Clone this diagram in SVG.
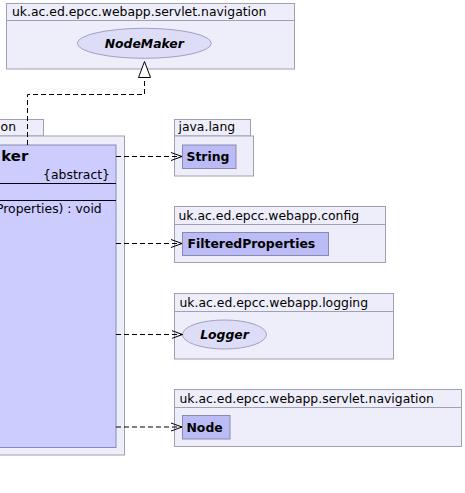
<svg xmlns="http://www.w3.org/2000/svg" width="465" height="493" viewBox="0 0 465 493">
<style>
.pkg{fill:#EEEEFA;stroke:#A0A0B4;stroke-width:1}
.cls{fill:#CCCCFF;stroke:#8A8AB0;stroke-width:1}
.ref{fill:#BBBBF5;stroke:#8A8AB0;stroke-width:1}
.ifc{fill:#DDDDF8;stroke:#A0A0C0;stroke-width:1}
.t{font-family:"DejaVu Sans",sans-serif;font-size:12.4px;fill:#000}
.b{font-family:"DejaVu Sans",sans-serif;font-size:12.4px;font-weight:bold;fill:#000}
.bi{font-family:"DejaVu Sans",sans-serif;font-size:12.4px;font-weight:bold;font-style:italic;fill:#000}
.dep{fill:none;stroke:#000;stroke-width:1;stroke-dasharray:5,3}
</style>
<defs>
<marker id="open" viewBox="0 0 12 10" refX="11" refY="5" markerWidth="12" markerHeight="10" markerUnits="userSpaceOnUse" orient="auto">
<path d="M0,1 L11,5 L0,9" fill="none" stroke="#000" stroke-width="1"/>
</marker>
</defs>
<rect width="465" height="493" fill="#FFFFFF"/>

<g id="pkg-navigation-top">
<rect class="pkg" x="6.5" y="3.5" width="288" height="65.5"/>
<line x1="6.5" y1="20.5" x2="294.5" y2="20.5" stroke="#A0A0B4"/>
<text class="t" x="12" y="15.5">uk.ac.ed.epcc.webapp.servlet.navigation</text>
</g>
<g id="node-NodeMaker">
<ellipse class="ifc" cx="144.3" cy="43.3" rx="67" ry="15"/>
<text class="bi" x="144.3" y="47.8" text-anchor="middle">NodeMaker</text>
</g>

<g id="pkg-left">
<rect class="pkg" x="-1" y="119.5" width="44.5" height="16.5"/>
<rect class="pkg" x="-1" y="136" width="125.5" height="319"/>
<text class="t" x="16" y="130.5" text-anchor="end">on</text>
</g>
<g id="node-main">
<rect class="cls" x="-1" y="145" width="117" height="302.5"/>
<line x1="-1" y1="183.5" x2="116" y2="183.5" stroke="#000"/>
<line x1="-1" y1="200.5" x2="116" y2="200.5" stroke="#000"/>
<text class="b" style="font-size:14.9px" x="28.3" y="160.5" text-anchor="end">ker</text>
<text class="t" x="110" y="179" text-anchor="end">{abstract}</text>
<text class="t" x="101.7" y="213" text-anchor="end">Properties) : void</text>
</g>

<g id="pkg-java-lang">
<rect class="pkg" x="174.5" y="119.5" width="76" height="16.5"/>
<rect class="pkg" x="174.5" y="136" width="79" height="40"/>
<text class="t" x="178.5" y="130.5">java.lang</text>
</g>
<g id="node-String">
<rect class="ref" x="182.5" y="145" width="53.5" height="23.5"/>
<text class="b" x="186.5" y="161">String</text>
</g>

<g id="pkg-config">
<rect class="pkg" x="174.5" y="206.5" width="211" height="56"/>
<line x1="174.5" y1="224.5" x2="385.5" y2="224.5" stroke="#A0A0B4"/>
<text class="t" x="178.5" y="220">uk.ac.ed.epcc.webapp.config</text>
</g>
<g id="node-FilteredProperties">
<rect class="ref" x="182.5" y="232.5" width="146" height="23"/>
<text class="b" x="187.5" y="248">FilteredProperties</text>
</g>

<g id="pkg-logging">
<rect class="pkg" x="174.5" y="293.5" width="219" height="65.5"/>
<line x1="174.5" y1="311.5" x2="393.5" y2="311.5" stroke="#A0A0B4"/>
<text class="t" x="179.5" y="306.5">uk.ac.ed.epcc.webapp.logging</text>
</g>
<g id="node-Logger">
<ellipse class="ifc" cx="224.5" cy="334.5" rx="42" ry="14.5"/>
<text class="bi" x="224.5" y="339" text-anchor="middle">Logger</text>
</g>

<g id="pkg-navigation">
<rect class="pkg" x="174.5" y="389.5" width="287" height="57"/>
<line x1="174.5" y1="407.5" x2="461.5" y2="407.5" stroke="#A0A0B4"/>
<text class="t" x="179.5" y="402.5">uk.ac.ed.epcc.webapp.servlet.navigation</text>
</g>
<g id="node-Node">
<rect class="ref" x="182.5" y="415.5" width="47.5" height="23.5"/>
<text class="b" x="186.5" y="431.5">Node</text>
</g>

<g id="connectors">
<path class="dep" d="M27.5,145 V94.5 H144.5 V77.5"/>
<polygon points="144.5,61.5 138.5,77.5 150.5,77.5" fill="#FFFFFF" stroke="#000" stroke-width="1"/>
<line class="dep" x1="116" y1="156.5" x2="182" y2="156.5" marker-end="url(#open)"/>
<line class="dep" x1="116" y1="243.5" x2="182" y2="243.5" marker-end="url(#open)"/>
<line class="dep" x1="116" y1="334.5" x2="182.5" y2="334.5" marker-end="url(#open)"/>
<line class="dep" x1="116" y1="427" x2="182" y2="427" marker-end="url(#open)"/>
</g>
</svg>
